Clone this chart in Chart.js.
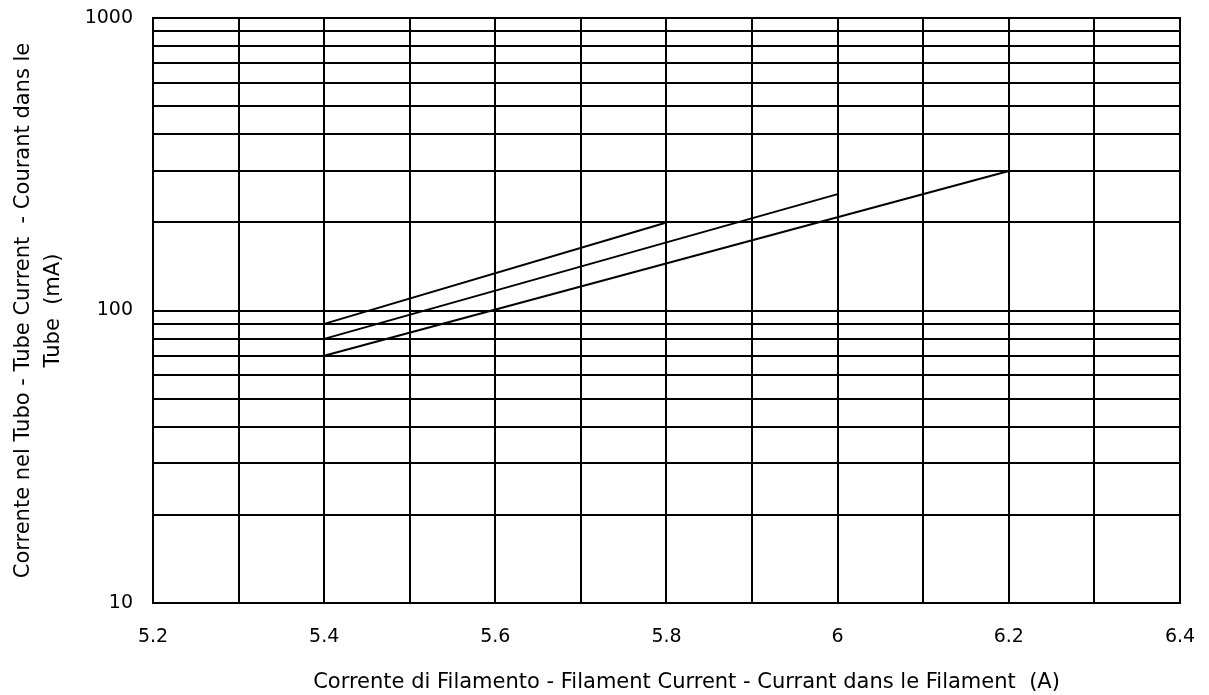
<!DOCTYPE html>
<html>
<head>
<meta charset="utf-8">
<script src="https://cdn.jsdelivr.net/npm/chart.js@4/dist/chart.umd.min.js"></script>
<style>
  html, body { margin: 0; padding: 0; background: #fff; }
  #wrap { width: 1209px; height: 695px; }
</style>
</head>
<body>
<div id="wrap"><canvas id="chart_fil"></canvas></div>
<script>
// curve end points: filament current (A) -> tube current (mA)
var curveX1 = [5.4, 5.8];
var curveY1 = [90, 200];
var curveX2 = [5.4, 6.0];
var curveY2 = [80, 250];
var curveX3 = [5.4, 6.2];
var curveY3 = [70, 300];

var xGrid = [5.2, 5.3, 5.4, 5.5, 5.6, 5.7, 5.8, 5.9, 6.0, 6.1, 6.2, 6.3, 6.4];
var xLabels = ["5.2", "5.4", "5.6", "5.8", "6", "6.2", "6.4"];
var yGrid = [10, 20, 30, 40, 50, 60, 70, 80, 90, 100, 200, 300, 400, 500, 600, 700, 800, 900, 1000];
var yLabels = [10, 100, 1000];

function pts(xs, ys) {
    return xs.map(function (x, i) { return { x: x, y: ys[i] }; });
}

Chart.defaults.font.family = "'DejaVu Sans', sans-serif";
Chart.defaults.font.size = 19;
Chart.defaults.color = "#000";

var ctx = document.getElementById("chart_fil").getContext("2d");
var lineStyle = { borderColor: "#000", borderWidth: 2, pointRadius: 0, fill: false, tension: 0 };
new Chart(ctx, {
    type: "line",
    data: {
        datasets: [
            Object.assign({ data: pts(curveX1, curveY1) }, lineStyle),
            Object.assign({ data: pts(curveX2, curveY2) }, lineStyle),
            Object.assign({ data: pts(curveX3, curveY3) }, lineStyle),
        ],
    },
    options: {
        responsive: true,
        maintainAspectRatio: false,
        animation: false,
        layout: { padding: { top: 18, right: 29, left: 0, bottom: 0 } },
        plugins: {
            legend: { display: false },
            tooltip: { enabled: false },
        },
        scales: {
            x: {
                type: "linear",
                min: 5.2,
                max: 6.4,
                afterBuildTicks: function (axis) {
                    axis.ticks = xGrid.map(function (v) { return { value: v }; });
                },
                afterFit: function (axis) {
                    axis.height = 92;
                    axis.paddingLeft = 0;
                    axis.paddingRight = 0;
                },
                ticks: {
                    autoSkip: false,
                    maxRotation: 0,
                    padding: 23,
                    callback: function (v) {
                        var s = String(Math.round(v * 10) / 10);
                        return xLabels.indexOf(s) >= 0 ? s : "";
                    },
                },
                grid: { color: "#000", lineWidth: 2, drawTicks: false },
                border: { color: "#000", width: 2 },
                title: {
                    display: true,
                    // leading spaces push the title a little right, as in the original
                    text: "      Corrente di Filamento - Filament Current - Currant dans le Filament  (A)",
                    font: { size: 21 },
                    padding: { top: 10, bottom: 0 },
                },
            },
            y: {
                type: "logarithmic",
                min: 10,
                max: 1000,
                afterBuildTicks: function (axis) {
                    axis.ticks = yGrid.map(function (v) { return { value: v }; });
                },
                afterFit: function (axis) {
                    axis.width = 153;
                    axis.paddingTop = 0;
                    axis.paddingBottom = 0;
                },
                ticks: {
                    autoSkip: false,
                    padding: 20,
                    callback: function (v) {
                        return yLabels.indexOf(v) >= 0 ? String(v) : "";
                    },
                },
                grid: { color: "#000", lineWidth: 2, drawTicks: false },
                border: { color: "#000", width: 2 },
                title: {
                    display: true,
                    text: ["Corrente nel Tubo - Tube Current  - Courant dans le", "Tube  (mA)"],
                    font: { size: 21, lineHeight: 1.45 },
                    padding: { top: 8, bottom: 0 },
                },
            },
        },
    },
    plugins: [{
        id: "frame",
        afterDraw: function (chart) {
            var a = chart.chartArea, c = chart.ctx;
            c.save();
            c.strokeStyle = "#000";
            c.lineWidth = 2;
            c.strokeRect(a.left, a.top, a.right - a.left, a.bottom - a.top);
            c.restore();
        },
    }],
});
</script>
</body>
</html>
